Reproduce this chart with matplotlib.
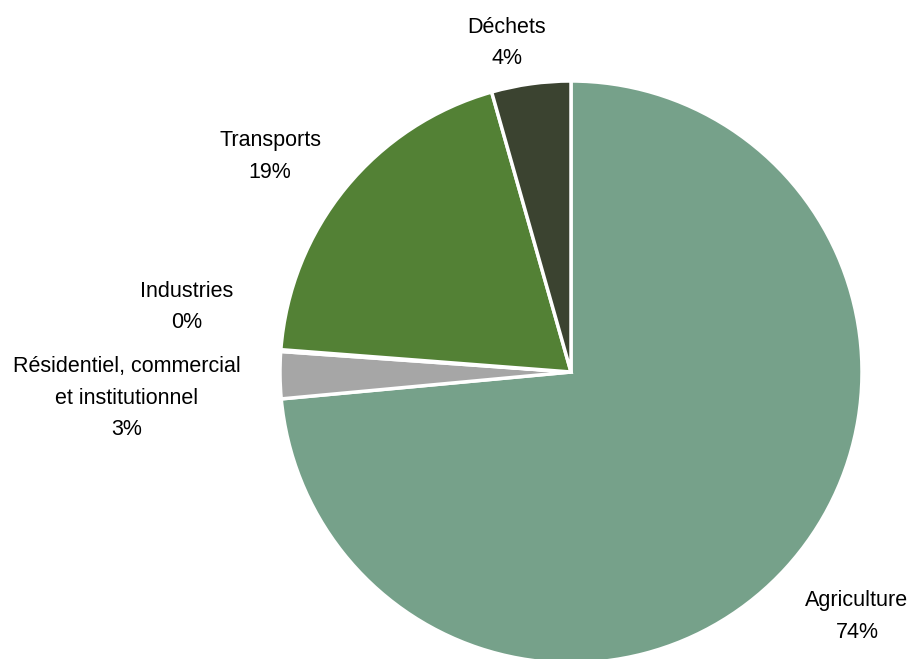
import matplotlib
matplotlib.use("Agg")
import matplotlib.pyplot as plt

categories = ["Agriculture", "Résidentiel, commercial\net institutionnel", "Industries", "Transports", "Déchets"]
values = [73.6, 2.6, 0.1, 19.4, 4.4]
pct_labels = ["74%", "3%", "0%", "19%", "4%"]
colors = ["#76A18A", "#A6A6A6", "#7F7F7F", "#538135", "#3B4330"]

W, H = 911, 659
cx, cy, R = 571, 372, 291

fig = plt.figure(figsize=(W / 100, H / 100), dpi=100)
ax = fig.add_axes([0, 0, 1, 1])
ax.pie(values, colors=colors, startangle=90, counterclock=False,
       radius=1.0, wedgeprops=dict(edgecolor="white", linewidth=2.5))
ax.set_xlim(-cx / R, (W - cx) / R)
ax.set_ylim(-(H - cy) / R, cy / R)
ax.set_aspect("equal")
ax.axis("off")

# label layout in pixel coordinates: center x, baseline y of first line
label_pos = [(857, 606), (127, 372), (187, 297), (270, 146), (507, 33)]
line_step = 31.5
for cat, pct, (px, py) in zip(categories, pct_labels, label_pos):
    lines = cat.split("\n") + [pct]
    for i, line in enumerate(lines):
        y = py + i * line_step
        fig.text(px / W, 1 - y / H, line, ha="center", va="baseline",
                 fontsize=15.5, family="Liberation Sans", color="black")

fig.savefig("out.png", dpi=100)
